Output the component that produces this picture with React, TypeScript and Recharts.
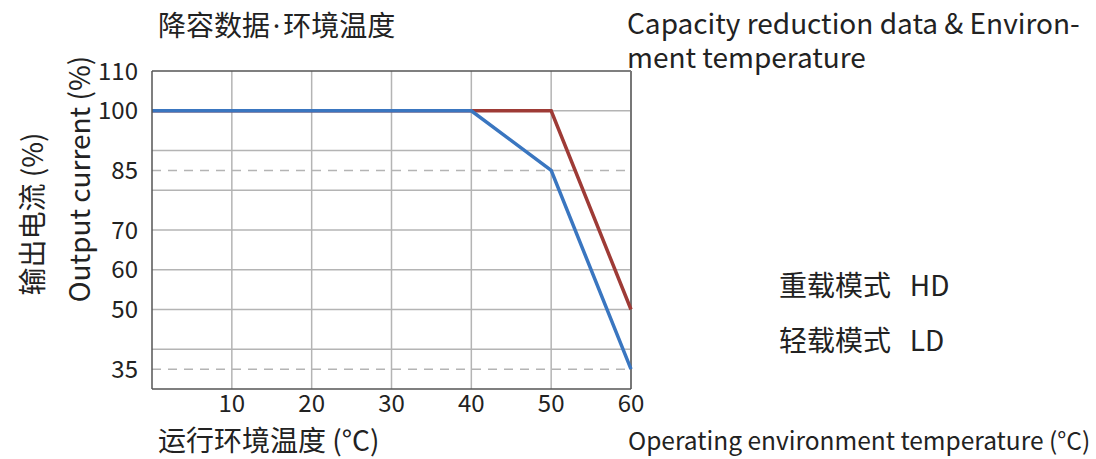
import React from 'react';
import {
  LineChart,
  Line,
  XAxis,
  YAxis,
  CartesianGrid,
  ReferenceLine,
} from 'recharts';

const temps = [0, 40, 50, 60];
const hdCurrent = [100, 100, 100, 50];
const ldCurrent = [100, 100, 85, 35];
const xTicks = [10, 20, 30, 40, 50, 60];
const yTicks = [35, 50, 60, 70, 85, 100, 110];
const gridY = [40, 50, 60, 70, 80, 90, 100];
const gridX = [10, 20, 30, 40, 50];
const dashedY = [85, 35];

const data = temps.map((t, i) => ({ t, hd: hdCurrent[i], ld: ldCurrent[i] }));

const FONT = '"Noto Sans CJK SC", "Noto Sans", sans-serif';
const TEXT = '#222';

function Label({ x, y, size = 28, lh, children, rotate = false }: any) {
  const style: React.CSSProperties = {
    position: 'absolute',
    left: x,
    top: y,
    fontSize: size,
    lineHeight: lh ? `${lh}px` : 1.35,
    color: TEXT,
    whiteSpace: 'pre',
    fontFamily: FONT,
  };
  if (rotate) style.transform = 'translate(-50%, -50%) rotate(-90deg)';
  return <div style={style}>{children}</div>;
}

export default function App() {
  return (
    <div style={{ position: 'fixed', left: 0, top: 0, width: 1096, height: 459, background: '#fff', fontFamily: FONT }}>
      <LineChart
        width={1096}
        height={459}
        data={data}
        margin={{ top: 71, right: 465, bottom: 0, left: 0 }}
      >
        <CartesianGrid
          stroke="#b4b4b4"
          strokeWidth={1.5}
          horizontalValues={gridY}
          verticalValues={gridX}
        />
        {dashedY.map((v) => (
          <ReferenceLine key={v} y={v} stroke="#b4b4b4" strokeWidth={1.5} strokeDasharray="9 7" />
        ))}
        <ReferenceLine y={110} stroke="#555" strokeWidth={1.5} />
        <ReferenceLine x={60} stroke="#777" strokeWidth={2} />
        <XAxis
          type="number"
          dataKey="t"
          domain={[0, 60]}
          ticks={xTicks}
          tickLine={false}
          axisLine={{ stroke: '#555', strokeWidth: 1.5 }}
          tick={{ fontSize: 24, fill: TEXT, fontFamily: FONT }}
          tickMargin={0}
          height={70}
        />
        <YAxis
          type="number"
          domain={[30, 110]}
          ticks={yTicks}
          tickLine={false}
          axisLine={{ stroke: '#555', strokeWidth: 1.5 }}
          tick={{ fontSize: 24, fill: TEXT, fontFamily: FONT }}
          tickMargin={8}
          width={152}
          interval={0}
        />
        <Line dataKey="hd" stroke="#9e3b36" strokeWidth={3.5} dot={false} isAnimationActive={false} />
        <Line dataKey="ld" stroke="#3a76c0" strokeWidth={3.5} dot={false} isAnimationActive={false} />
      </LineChart>

      <Label x={158} y={6}>
        降容数据<span style={{ fontFamily: '"Noto Sans", sans-serif' }}>{'\u200A·\u200A'}</span>环境温度
      </Label>
      <Label x={627} y={5} lh={34}>{'Capacity reduction data & Environ-\nment temperature'}</Label>
      <Label x={79} y={179} rotate>Output current (%)</Label>
      <Label x={32} y={214} rotate>输出电流 (%)</Label>
      <Label x={158} y={421}>运行环境温度 (°C)</Label>
      <Label x={628} y={423} size={24.5}>Operating environment temperature (°C)</Label>
      <Label x={779} y={266}>重载模式   HD</Label>
      <Label x={779} y={321}>轻载模式   LD</Label>
    </div>
  );
}
